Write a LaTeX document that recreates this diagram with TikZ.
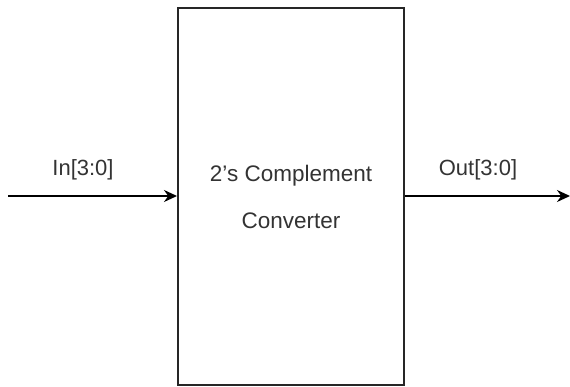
\documentclass[tikz,border=0pt]{standalone}
\usepackage{fontspec}
\setmainfont{Liberation Sans}
\usetikzlibrary{arrows.meta}
\definecolor{txt}{HTML}{333333}
\tikzset{
  blockbox/.style={draw=black!85, line width=2pt, minimum width=226pt, minimum height=377pt, inner sep=0pt},
  sig/.style={draw=black, line width=1.8pt, -{Stealth[length=13pt,width=12pt]}},
  lbl/.style={text=txt, font=\fontsize{22}{26}\selectfont, inner sep=0pt}
}
\begin{document}
\begin{tikzpicture}[x=1pt,y=-1pt]
\useasboundingbox (0,0) rectangle (570,387);
\node[blockbox] (conv) at (291,196.5) {};
\node[lbl, align=center, font=\fontsize{22.5}{47}\selectfont] (ctext) at (conv.center) {2’s Complement\\Converter};
\coordinate (inS) at (8,196);
\coordinate (outE) at (570,196);
\draw[sig] (inS) -- (inS -| conv.west);
\draw[sig] (outE -| conv.east) -- (outE);
\node[lbl] (inl) at (83,170) {In[3:0]};
\node[lbl] (outl) at (478,170) {Out[3:0]};
\end{tikzpicture}
\end{document}
